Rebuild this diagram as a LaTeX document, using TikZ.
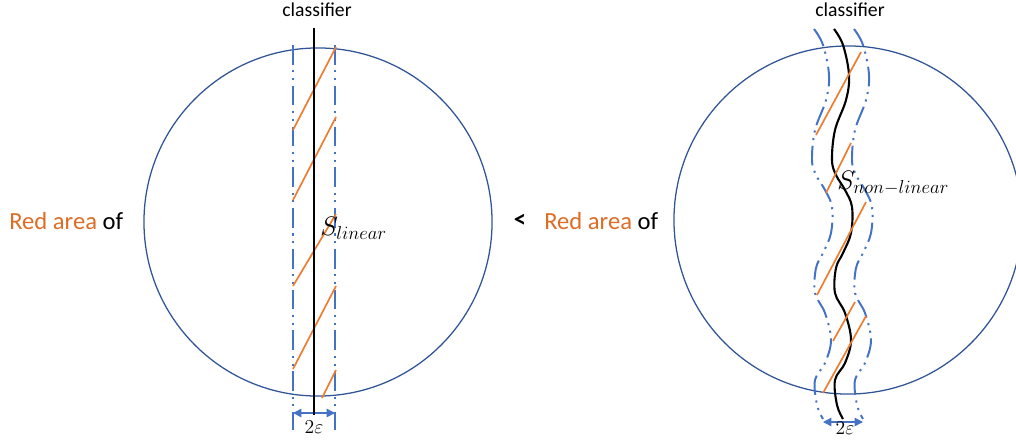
\RequirePackage{fix-cm}
\documentclass[tikz,border=0pt]{standalone}
\usepackage{fontspec}
\setmainfont{Carlito}
\usetikzlibrary{arrows.meta}

\definecolor{ringblue}{HTML}{2F5597}
\definecolor{bandblue}{HTML}{4472C4}
\definecolor{hatchorange}{HTML}{ED7D31}
\definecolor{textorange}{HTML}{DD6C25}

\tikzset{
    ring/.style={circle, draw=ringblue, line width=0.9pt, minimum size=8.7cm, inner sep=0pt},
    band/.style={bandblue, line width=1.4pt, dash pattern=on 14pt off 4pt on 1.5pt off 4pt on 1.5pt off 4pt},
    hatch/.style={hatchorange, line width=1.2pt},
    classline/.style={black, line width=1.5pt},
    gap/.style={bandblue, line width=1.1pt, {Triangle[length=6pt,width=6pt]}-{Triangle[length=6pt,width=6pt]}},
    bigtext/.style={font=\fontsize{17.5}{20}\selectfont, inner sep=0pt},
    toptext/.style={font=\fontsize{14}{17}\selectfont, inner sep=0pt},
    mathtext/.style={font=\fontsize{19}{22}\selectfont, anchor=west, inner sep=0pt}
}

\begin{document}
\begin{tikzpicture}[x=0.025cm, y=-0.025cm]
    \useasboundingbox (0, 0) rectangle (1016, 440);

    % left: linear classifier
    \node[ring] (lring) at (318, 222) {};
    \coordinate (ltop) at (314, 28);
    \coordinate (lbot) at (314, 415);
    \coordinate (lbandL) at (293, 45);
    \coordinate (lbandR) at (335, 45);
    \draw[band] (lbandL) -- (293, 430);
    \draw[band] (lbandR) -- (335, 430);
    \foreach \a/\b in {130/47, 200/117, 286/214, 369/286, 398/370} {
        \ifnum\a=398
            \draw[hatch] (322, \a) -- (336, \b);
        \else
            \draw[hatch] (293, \a) -- (336, \b);
        \fi
    }
    \coordinate (lgapL) at (293, 413);
    \coordinate (lgapR) at (335, 413);
    \draw[gap] (lgapL) -- (lgapR);
    \draw[classline] (ltop) -- (lbot);
    \node[toptext, anchor=south] (lcls) at (317, 17) {classifier};
    \node[mathtext] (slin) at (320, 228) {$S_{linear}$};
    \node[font=\fontsize{14}{16}\selectfont, inner sep=0pt] (leps) at (314, 427) {$2\varepsilon$};

    % right: non-linear classifier
    \node[ring] (rring) at (848, 220) {};
    \foreach \s/\sty in {-20/band, 20/band, 0/classline} {
        \draw[\sty, xshift=\s*0.025cm] plot[smooth, tension=0.6] coordinates {
            (834, 29) (843, 45) (849, 75) (846, 100) (835, 130) (832, 160)
            (836, 175) (845, 190) (852, 207) (851, 233) (843, 253) (836, 268)
            (835, 293) (845, 313) (851, 340) (845, 363) (835, 380) (837, 405) (843, 419)};
    }
    \foreach \a/\b/\c/\d in {816/135/861/52, 826/193/851/143, 817/295/866/202,
                             833/341/855/302, 823/393/866/316} {
        \draw[hatch] (\a, \b) -- (\c, \d);
    }
    \coordinate (rgapL) at (823, 422);
    \coordinate (rgapR) at (863, 422);
    \draw[gap] (rgapL) -- (rgapR);
    \node[toptext, anchor=south] (rcls) at (850, 17) {classifier};
    \node[mathtext] (snonlin) at (837, 183) {$S_{non-linear}$};
    \node[font=\fontsize{14}{16}\selectfont, inner sep=0pt] (reps) at (845, 428) {$2\varepsilon$};

    % comparison text
    \node[bigtext, anchor=west] (lred) at (9, 221) {\textcolor{textorange}{Red area} of};
    \node[bigtext] (less) at (520, 221) {\textbf{<}};
    \node[bigtext, anchor=west] (rred) at (544, 221) {\textcolor{textorange}{Red area} of};
\end{tikzpicture}
\end{document}
